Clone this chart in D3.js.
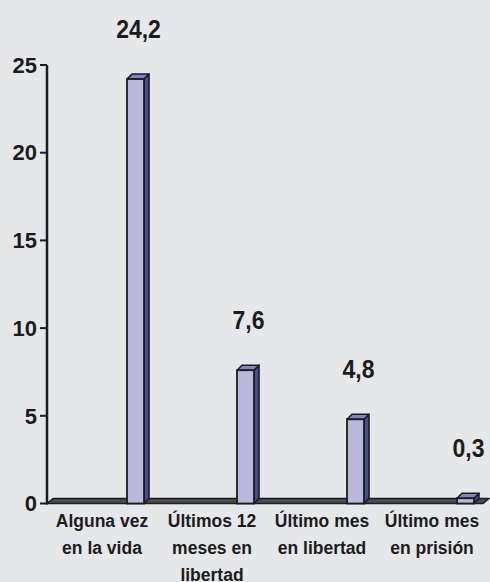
<!DOCTYPE html>
<html>
<head>
<meta charset="utf-8">
<script src="https://cdn.jsdelivr.net/npm/d3@7"></script>
<style>
  html, body { margin: 0; padding: 0; background: #e6e7e9; }
  svg { display: block; }
</style>
</head>
<body>
<div id="chart"></div>
<script>
// Data
const categories = [
  ['Alguna vez', 'en la vida'],
  ['Últimos 12', 'meses en', 'libertad'],
  ['Último mes', 'en libertad'],
  ['Último mes', 'en prisión']
];
const values = [24.2, 7.6, 4.8, 0.3];
const yTicks = [0, 5, 10, 15, 20, 25];

const W = 490, H = 582;
const axisX = 47;
const font = 'Liberation Sans, Arial, Helvetica, sans-serif';

const svg = d3.select('#chart').append('svg')
  .attr('width', W)
  .attr('height', H)
  .style('background', '#e6e7e9');

const x = d3.scaleBand()
  .domain(d3.range(categories.length))
  .range([axisX, axisX + 440])
  .padding(0);

const y = d3.scaleLinear()
  .domain([0, 25])
  .range([503.5, 65]);

const depth = 5;
const barW = 17;
const barOff = 80;

// Floor (3D)
const fx0 = axisX, fx1 = axisX + 442;
svg.append('path')
  .attr('d', `M${fx0},${y(0)} L${fx0 + depth + 1},${y(0) - depth} L${fx1},${y(0) - depth} L${fx1 - depth - 1},${y(0)} Z`)
  .attr('fill', '#4c4c50')
  .attr('stroke', '#1c1c1e')
  .attr('stroke-width', 1.5)
  .attr('stroke-linejoin', 'round');

// Y axis
svg.append('line')
  .attr('x1', axisX).attr('x2', axisX)
  .attr('y1', y(25)).attr('y2', y(0) + 1)
  .attr('stroke', '#1c1c1e')
  .attr('stroke-width', 2.5);

for (const t of yTicks) {
  svg.append('line')
    .attr('x1', axisX - 7).attr('x2', axisX)
    .attr('y1', y(t)).attr('y2', y(t))
    .attr('stroke', '#1c1c1e')
    .attr('stroke-width', 2);
  svg.append('text')
    .attr('x', 37)
    .attr('y', y(t))
    .attr('dy', '0.35em')
    .attr('text-anchor', 'end')
    .attr('font-family', font)
    .attr('font-weight', 'bold')
    .attr('font-size', '22px')
    .attr('fill', '#1c1c1e')
    .text(t);
}

// Bars
values.forEach((v, i) => {
  const bx = x(i) + barOff;
  const top = y(v), bot = y(0);
  const g = svg.append('g');
  // side face
  g.append('path')
    .attr('d', `M${bx + barW},${top} L${bx + barW + depth},${top - depth} L${bx + barW + depth},${bot - depth} L${bx + barW},${bot} Z`)
    .attr('fill', '#4a4d8f')
    .attr('stroke', '#1c1c1e').attr('stroke-width', 1.6).attr('stroke-linejoin', 'round');
  // top face
  g.append('path')
    .attr('d', `M${bx},${top} L${bx + depth},${top - depth} L${bx + barW + depth},${top - depth} L${bx + barW},${top} Z`)
    .attr('fill', '#8184c4')
    .attr('stroke', '#1c1c1e').attr('stroke-width', 1.6).attr('stroke-linejoin', 'round');
  // front face
  g.append('rect')
    .attr('x', bx).attr('y', top)
    .attr('width', barW).attr('height', bot - top)
    .attr('fill', '#b9b7dc')
    .attr('stroke', '#1c1c1e').attr('stroke-width', 1.8);

  // value label
  const lx = bx + barW / 2 + 3, ly = top - 41;
  svg.append('text')
    .attr('transform', `translate(${lx},${ly}) scale(1,1.15)`)
    .attr('text-anchor', 'middle')
    .attr('font-family', font)
    .attr('font-weight', 'bold')
    .attr('font-size', '23px')
    .attr('fill', '#1c1c1e')
    .text(String(v).replace('.', ','));
});

// Category labels
categories.forEach((lines, i) => {
  const cx = x(i) + x.bandwidth() / 2;
  lines.forEach((ln, j) => {
    svg.append('text')
      .attr('x', cx)
      .attr('y', 527 + j * 27)
      .attr('text-anchor', 'middle')
      .attr('font-family', font)
      .attr('font-weight', 'bold')
      .attr('font-size', '17.5px')
      .attr('fill', '#1c1c1e')
      .text(ln);
  });
});
</script>
</body>
</html>
